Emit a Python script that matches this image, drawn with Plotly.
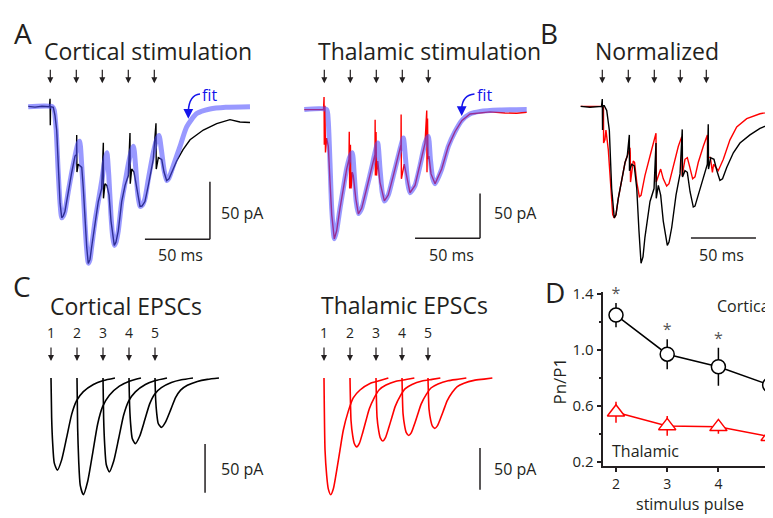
import plotly.graph_objects as go

W, H = 773, 518
SX, SY = 8, 8          # page offset of the plot inside the browser window
FONT = "Open Sans"
INK = "#231f20"

# ---------------- data ----------------
pulse_times = [0, 20, 40, 60, 80]          # ms
pulse_labels = ["1", "2", "3", "4", "5"]

# Panel A: cortical stimulation, recorded trace (ms, pA)
cortical_trace = [(-16.9, 0.3), (-11.8, -0.4), (-6.4, 0.4), (-0.6, 0), (-0.2, 6.8), (0, -16.1), (0.2, 0),
                  (2.3, -0.6), (3.6, -7.6), (4.9, -20.3), (6.2, -56.8), (7.5, -83.9), (8.8, -96.6), (10, -94.9),
                  (11.3, -90.9), (13.8, -74), (16.5, -57), (19, -43), (20.2, -41.5), (20.3, -24.6), (20.5, -56.8),
                  (21.5, -50), (24.2, -52.8), (25.4, -71.2), (26.7, -99.4), (28, -122), (29.2, -136.2), (30.5, -133),
                  (31.8, -122), (34.4, -99.4), (36.9, -82.5), (39.5, -71.2), (40.8, -31.4), (40.9, -79.7), (42.1, -67),
                  (43.6, -68.6), (45.2, -76.9), (46.7, -99.4), (49.2, -120.6), (50.5, -117.8), (52.3, -107.9),
                  (54.9, -82.5), (57.5, -68.4), (60, -59.9), (61.3, -22.9), (61.5, -66.9), (62.6, -54.2), (64.4, -56.8),
                  (67.2, -76.9), (69, -86.7), (70.5, -86.4), (72.8, -82.5), (75.4, -68.4), (79.2, -45.8), (81.3, -14.4),
                  (81.5, -54.2), (83.1, -44.3), (85.7, -45.8), (87.5, -56.8), (89.5, -64.2), (91.3, -62.7), (97.2, -47.2),
                  (102.1, -37.3), (107.5, -28.8), (117.7, -20.3), (128, -14.7), (138.2, -11.3), (145.9, -13.3),
                  (153.6, -13.8)]
cortical_fit = [(-17, 0), (1.5, 0), (3, -3), (4.5, -20), (6, -55), (7.5, -84), (8.8, -96.6), (10, -95), (11.3, -91),
                (13.8, -74), (16.5, -57), (19, -43), (21, -33), (22.6, -30), (24, -48), (25.4, -75), (26.7, -102),
                (28, -124), (29.2, -136), (30.5, -133), (31.8, -122), (34.4, -99.4), (36.9, -82.5), (39.5, -65),
                (42, -46), (43.5, -40), (45, -60), (46.7, -95), (48, -113), (49.2, -120.6), (50.5, -118), (52.3, -108),
                (54.9, -83), (57.5, -66), (60, -50), (62.5, -38), (64, -34.5), (65.5, -50), (67.2, -75), (69, -86.7),
                (70.5, -86), (72.8, -80), (75.4, -63), (79.2, -40), (82, -28), (83.6, -25), (85.5, -38), (87.5, -55),
                (89.5, -64.2), (91.3, -62), (94.6, -51.4), (99.8, -34.5), (104.9, -17.5), (112.6, -6), (122.8, -2),
                (135, -0.5), (153.6, 0)]

# Panel A right: thalamic stimulation (ms, pA)
thalamic_trace = [(-15.4, 0), (-0.6, 0), (-0.2, 14.1), (0, -39.1), (0.5, 4.3), (0.9, -47.8), (1.8, -31.8), (3.1, -41),
                  (4.4, -80.8), (5.7, -117.1), (7.7, -144.2), (9.5, -135.1), (12.1, -109.8), (14.6, -88), (17.2, -66.3),
                  (19, -55.4), (19.2, -24.7), (19.5, -88), (20.1, -39.1), (20.6, -88), (21.5, -69.9), (22.3, -73.6),
                  (24.2, -98.9), (26.2, -116.3), (28.8, -109.8), (32.6, -88), (36.5, -64.5), (39, -50), (39.1, -11.2),
                  (39.3, -73.6), (39.8, -25), (40.2, -73.6), (41.1, -57.3), (42.8, -80.8), (46.2, -101.8), (49.2, -95.3),
                  (53.1, -73.6), (56.9, -51.8), (59, -39.1), (59.1, -5.4), (59.3, -77.2), (61.5, -60.9), (63.4, -73.6),
                  (65.9, -92.7), (69.8, -84.5), (73.6, -62.7), (77.5, -37.3), (78.8, -1.1), (79, -69.9), (79.4, -10),
                  (79.8, -55), (80.5, -51.8), (82.1, -71.7), (85.2, -82.6), (90.3, -66.3), (95.4, -41), (100.5, -24.7),
                  (105.9, -12), (112.1, -4.9), (127.5, -2.5), (139, -3.8), (148, -4), (155.7, -2.9)]
thalamic_fit = [(-15.4, 0), (1.8, 0), (3, -12), (4.4, -60), (5.7, -110), (7.7, -144), (9.5, -135), (12.1, -110),
                (14.6, -88), (17.2, -66), (19.5, -53), (21.5, -48), (23, -72), (24.5, -102), (26.2, -116), (28.8, -110),
                (32.6, -88), (36.5, -64.5), (39, -48), (41.1, -37.3), (42.8, -65), (44.5, -92), (46.2, -102),
                (49.2, -95.3), (53.1, -73.6), (56.9, -51.8), (59, -40), (60.8, -31.8), (62.5, -55), (64.2, -82),
                (65.9, -92.7), (69.8, -84.5), (73.6, -62.7), (77.5, -37.3), (80, -30), (81.6, -55), (83.3, -76),
                (85.2, -82.6), (90.3, -66.3), (95.4, -41), (100.5, -24.7), (105.9, -12), (112, -5), (120, -2),
                (135, -0.5), (155.7, 0)]

# Panel B: normalized traces (ms, normalized units)
norm_cortical = [(-16.6, 0), (-9.5, -0.7), (-0.6, 0), (0, 6.3), (0.2, -20.6), (0.5, 0.6), (1.5, 0.6), (3.4, -3.6),
                 (5.4, -20.6), (7.2, -71.4), (9.2, -96.9), (10.5, -94.3), (12.3, -79.9), (14.9, -62.9), (17.5, -48.8),
                 (19.2, -43.2), (20.8, -24.8), (20.9, -55.9), (22.6, -50.3), (24.6, -51.7), (26.5, -71.4),
                 (28.2, -108.1), (29.8, -136.4), (31.3, -130.8), (32.8, -113.8), (36.7, -82.7), (39.8, -71.4),
                 (41.3, -31.9), (41.5, -79.9), (43.1, -68.6), (44.9, -77.1), (46.9, -99.7), (50, -120.8), (51.3, -118),
                 (53.4, -105.3), (56.7, -77.1), (59.8, -58.7), (61.5, -20), (61.7, -61.5), (63.6, -55.9), (65.4, -57.3),
                 (67.5, -74.2), (70, -87.5), (71.3, -86.7), (73.8, -77.1), (77.7, -60.2), (80.8, -50.3), (81.5, -15.5),
                 (81.7, -54.5), (83.4, -44.6), (85.9, -46), (88.2, -56.2), (90.5, -64.4), (92.5, -63), (95.7, -53.1),
                 (100.8, -40.3), (105.9, -31.9), (113.6, -24.8), (121.3, -19.2), (130.3, -14.9), (133, -14)]
norm_thalamic = [(-16.6, 0), (-0.6, 0), (0.9, -0.8), (1, -31.9), (2, -29), (2.8, -20.6), (4.6, -37.5), (6.5, -71.4),
                 (8, -94), (9.2, -96.9), (10.5, -94.3), (12.3, -79.9), (14.9, -62.9), (17.5, -48.8), (19.2, -43.2),
                 (21.3, -36), (21.5, -40.3), (21.7, -65.8), (23.8, -47.5), (24.8, -48.6), (26.5, -65.8), (28.5, -78.5),
                 (29.8, -77.4), (32.8, -60.2), (38, -37.5), (41.3, -23.4), (41.5, -65.8), (43.1, -60.2), (44.9, -54.5),
                 (46.9, -63), (49.5, -69.2), (51.3, -67.2), (54.6, -51.7), (58.5, -34.7), (61.1, -26.3), (61.4, -60.4),
                 (63.6, -46), (65.4, -44.6), (67.1, -51.9), (69.5, -63), (71.3, -61.3), (73.8, -48.8), (77.7, -34.7),
                 (80.8, -24.8), (81, -44.3), (83.1, -44.3), (84.7, -57.3), (85.6, -50.3), (87.2, -52.8), (89.2, -55.9),
                 (93.1, -46), (98.2, -29.1), (103.4, -17.8), (111.1, -10.7), (121.3, -6.4), (130.3, -4.5), (133, -4.2)]

# Panel C: individual EPSC waveforms (time from onset in ms, fraction of peak) and peak amplitudes (pA)
cort_epsc_t = [0, 0.5, 1.3, 2.5, 4.9, 8.2, 12.1, 15.9, 19.7, 24.9, 32.6, 40.3, 49.2]
cort_epsc_frac = [0, 0.43, 0.71, 0.92, 1, 0.887, 0.641, 0.394, 0.246, 0.148, 0.07, 0.028, 0.0]
cort_epsc_amp = [94.7, 119.7, 96.4, 67.4, 50.7]
thal_epsc_t = [0, 0.8, 2.1, 3.3, 5.2, 7.2, 9.8, 12.3, 14.8, 18.7, 22.5, 27.7, 35.4, 43.1, 49.5]
thal_epsc_frac = [0, 0.62, 0.84, 0.95, 1, 0.95, 0.79, 0.618, 0.45, 0.284, 0.17, 0.103, 0.047, 0.022, 0.0]
thal_epsc_amp = [139.2, 82.2, 75.2, 68.6, 60.1]

# Panel D: paired-pulse ratios
pulse_num = [2, 3, 4, 5]
cort_ratio = [1.25, 0.97, 0.88, 0.75]
cort_err = [0.087, 0.107, 0.136, 0.13]
thal_ratio = [0.555, 0.457, 0.45, 0.38]
thal_err = [0.075, 0.07, 0.05, 0.065]
y_ticks_D = [0.2, 0.6, 1.0, 1.4]
y_minor_D = [0.4, 0.8, 1.2]

# ---------------- figure ----------------
fig = go.Figure()
layout = dict(width=W, height=H, margin=dict(l=0, r=0, t=0, b=0), paper_bgcolor="white",
              plot_bgcolor="rgba(0,0,0,0)", showlegend=False, font=dict(family=FONT, color=INK))
annotations = []
shapes = []


def fx(px):
    return (px - SX) / W


def fy(py):
    return 1 - (py - SY) / H


def names(n):
    return ("x" if n == 1 else f"x{n}"), ("y" if n == 1 else f"y{n}")


def hidden_axes(n, pxl, pxr, x0, sx, pyt, pyb, y0, sy):
    xa, ya = names(n)
    layout["xaxis" if n == 1 else f"xaxis{n}"] = dict(
        domain=[fx(pxl), fx(pxr)], range=[(pxl - x0) / sx, (pxr - x0) / sx], visible=False, anchor=ya)
    layout["yaxis" if n == 1 else f"yaxis{n}"] = dict(
        domain=[fy(pyb), fy(pyt)], range=[(y0 - pyb) / sy, (y0 - pyt) / sy], visible=False, anchor=xa)


hidden_axes(1, 8, 275, 50.3, 1.3, 55, 280, 101, 1.18)
hidden_axes(2, 280, 550, 324.3, 1.3, 55, 280, 104, 0.92)
hidden_axes(3, 555, 780, 602.3, 1.3, 55, 280, 100.7, 1.18)
hidden_axes(4, 8, 275, 51, 1.3, 320, 520, 379.3, 1.0)
hidden_axes(5, 280, 550, 324, 1.3, 320, 520, 379.3, 0.86)


def line_trace(pairs, n, color, width, shape="linear"):
    xa, ya = names(n)
    fig.add_trace(go.Scatter(x=[p[0] for p in pairs], y=[p[1] for p in pairs], mode="lines",
                             line=dict(color=color, width=width, shape=shape, smoothing=0.6),
                             xaxis=xa, yaxis=ya, hoverinfo="skip"))


FIT = "rgba(80,80,255,0.58)"
line_trace(cortical_trace, 1, "black", 1.4)
line_trace(cortical_fit, 1, FIT, 5, "spline")
line_trace(thalamic_trace, 2, "red", 1.4)
line_trace(thalamic_fit, 2, FIT, 5, "spline")
line_trace(norm_thalamic, 3, "red", 1.4)
line_trace(norm_cortical, 3, "black", 1.4)

for onset, amp in zip(pulse_times, cort_epsc_amp):
    line_trace([(onset + t, -amp * f) for t, f in zip(cort_epsc_t, cort_epsc_frac)], 4, "black", 1.6, "spline")
for onset, amp in zip(pulse_times, thal_epsc_amp):
    line_trace([(onset + t, -amp * f) for t, f in zip(thal_epsc_t, thal_epsc_frac)], 5, "red", 1.6, "spline")

# Panel D
fig.add_trace(go.Scatter(x=pulse_num, y=thal_ratio, mode="lines+markers", xaxis="x6", yaxis="y6",
                         line=dict(color="red", width=1.5),
                         error_y=dict(type="data", array=thal_err, color="red", thickness=1.5, width=0),
                         marker=dict(symbol="triangle-up", size=15, color="white", line=dict(color="red", width=1.5)),
                         cliponaxis=False, hoverinfo="skip"))
fig.add_trace(go.Scatter(x=pulse_num, y=cort_ratio, mode="lines+markers", xaxis="x6", yaxis="y6",
                         line=dict(color="black", width=1.5),
                         error_y=dict(type="data", array=cort_err, color="black", thickness=1.5, width=0),
                         marker=dict(symbol="circle", size=14, color="white", line=dict(color="black", width=1.5)),
                         cliponaxis=False, hoverinfo="skip"))
fig.add_trace(go.Scatter(x=pulse_num, y=[r + e for r, e in zip(cort_ratio, cort_err)], mode="text",
                         text=["*"] * len(pulse_num), textposition="top center",
                         textfont=dict(size=16, color="#555555", family=FONT),
                         xaxis="x6", yaxis="y6", cliponaxis=False, hoverinfo="skip"))

layout["xaxis6"] = dict(domain=[fx(603.3), 1], range=[1.752, 2 + (781 - 616) / 51.2], anchor="y6", showline=True,
                        linecolor=INK, linewidth=1.5, ticks="outside", ticklen=4, tickwidth=1.5, tickcolor=INK,
                        tickvals=pulse_num, tickfont=dict(size=14, family=FONT, color=INK),
                        showgrid=False, zeroline=False)
layout["yaxis6"] = dict(domain=[fy(470), fy(290.7)], range=[0.167, 1.418], anchor="x6", showline=True,
                        linecolor=INK, linewidth=1.5, ticks="outside", ticklen=5, tickwidth=1.5, tickcolor=INK,
                        tickvals=y_ticks_D, ticktext=[f"{v:.1f}" for v in y_ticks_D],
                        tickfont=dict(size=15, family=FONT, color=INK),
                        minor=dict(tickvals=y_minor_D, ticks="outside", ticklen=3, tickwidth=1.5, tickcolor=INK),
                        showgrid=False, zeroline=False)


def txt(s, xpx, ypx, size, color=INK, xanchor="center", angle=0):
    annotations.append(dict(text=s, x=fx(xpx), y=fy(ypx), xref="paper", yref="paper", showarrow=False,
                            font=dict(size=size, color=color, family=FONT), xanchor=xanchor, yanchor="middle",
                            textangle=angle))


# panel letters and titles
txt("A", 23, 25, 28)
txt("B", 549, 25, 28)
txt("C", 22, 285, 28)
txt("D", 555, 291, 28)
txt("Cortical stimulation", 147.5, 44, 23)
txt("Thalamic stimulation", 429, 44, 23)
txt("Normalized", 656.5, 44, 23)
txt("Cortical EPSCs", 125.5, 305, 23)
txt("Thalamic EPSCs", 405, 304, 23)


# stimulus arrows
def stim_arrows(n, tip_px):
    xa, _ = names(n)
    for t in pulse_times:
        annotations.append(dict(x=t, xref=xa, y=fy(tip_px), yref="paper", ax=0, ay=-15, text="",
                                showarrow=True, arrowhead=2, arrowsize=1, arrowwidth=1.2, arrowcolor=INK,
                                standoff=0))


for n in (1, 2, 3):
    stim_arrows(n, 77)
for n in (4, 5):
    stim_arrows(n, 362)
    xa, _ = names(n)
    for t, lab in zip(pulse_times, pulse_labels):
        annotations.append(dict(x=t, xref=xa, y=fy(333), yref="paper", text=lab, showarrow=False,
                                font=dict(size=14, family=FONT, color=INK), yanchor="middle"))

# "fit" labels with curved arrows
BLUE = "rgb(20,20,235)"
for xt, yt, xs, xh, yh in [(209, 89, 200, 188.3, 113.5), (484, 89, 474.5, 461.7, 110.5)]:
    txt("fit", xt, yt, 16, color=BLUE)
    shapes.append(dict(type="path", xref="paper", yref="paper",
                       path=f"M {fx(xs)},{fy(yt - 1)} Q {fx(xh + 1)},{fy(yt)} {fx(xh)},{fy(yh - 8)}",
                       line=dict(color=BLUE, width=1.5)))
    annotations.append(dict(text="", x=fx(xh), y=fy(yh), xref="paper", yref="paper", ax=0, ay=-9,
                            showarrow=True, arrowhead=2, arrowsize=1.3, arrowwidth=1.5, arrowcolor=BLUE,
                            standoff=0))


# scale bars (data units: ms and pA)
def hline(n, x0, x1, y):
    xa, ya = names(n)
    shapes.append(dict(type="line", xref=xa, yref=ya, x0=x0, x1=x1, y0=y, y1=y, line=dict(color=INK, width=1.5)))


def vline(n, x, y0, y1):
    xa, ya = names(n)
    shapes.append(dict(type="line", xref=xa, yref=ya, x0=x, x1=x, y0=y0, y1=y1, line=dict(color=INK, width=1.5)))


vline(1, 122.8, -65.3, -115.3)
hline(1, 72.8, 122.8, -115.3)
vline(2, 119.8, -93.5, -143.5)
hline(2, 69.8, 119.8, -143.5)
hline(3, 68.2, 118.2, -114.4)
vline(4, 118.5, -67.7, -117.7)
vline(5, 120, -83.4, -133.4)

txt("50 pA", 242.5, 210, 16)
txt("50 ms", 180, 253, 16)
txt("50 pA", 515, 210, 16)
txt("50 ms", 451.5, 253, 16)
txt("50 ms", 721.5, 253, 16)
txt("50 pA", 242.5, 473, 16)
txt("50 pA", 515, 473, 16)

# panel D labels
txt("Cortical", 715, 305, 16, xanchor="left")
txt("Thalamic", 610, 454, 16, xanchor="left")
txt("stimulus pulse", 690, 509, 16)
txt("Pn/P1", 560, 383, 17, angle=-90)

layout["annotations"] = annotations
layout["shapes"] = shapes
fig.update_layout(**layout)

fig.write_html("out.html")
